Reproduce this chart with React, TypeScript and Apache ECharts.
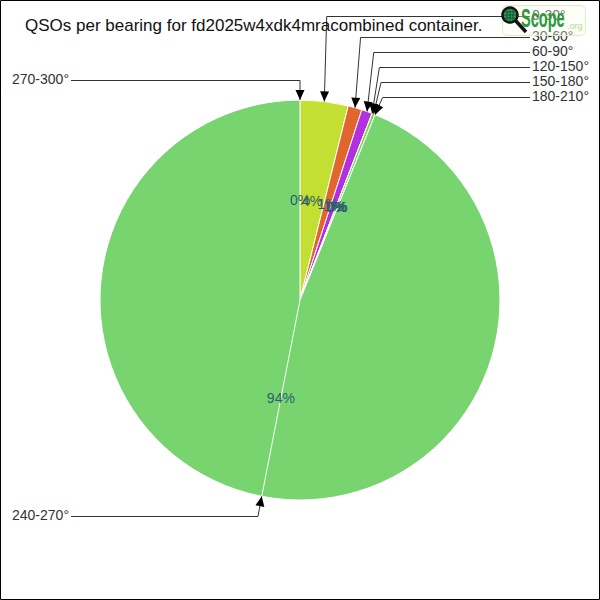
import React, { useEffect, useRef } from "react";
import * as echarts from "echarts";

const categories = ["270-300°", "0-30°", "30-60°", "60-90°", "120-150°", "150-180°", "180-210°", "240-270°"];
const qsoCounts = [0, 31, 9, 7, 0, 2, 0, 751];
const sliceColors = ["#9aa0a6", "#c2df32", "#e2662c", "#b32fe0", "#8a6de0", "#6ade38", "#40c0c0", "#78d46e"];
const titleText = "QSOs per bearing for fd2025w4xdk4mracombined container.";

const CX = 300;
const CY = 300;
const R = 200;
const FONT = "'Liberation Sans', Arial, sans-serif";

export default function App() {
  const ref = useRef<HTMLDivElement>(null);

  useEffect(() => {
    if (!ref.current) return;
    const chart = echarts.init(ref.current, null, { renderer: "svg" });

    const total = qsoCounts.reduce((a, b) => a + b, 0);
    let cum = 0;
    const spans = qsoCounts.map((v) => {
      const a0 = (cum / total) * 360;
      cum += v;
      const a1 = (cum / total) * 360;
      return { a0, a1, mid: (a0 + a1) / 2, pct: Math.round((v / total) * 100) };
    });
    const pt = (deg: number, r: number) => {
      const t = (deg * Math.PI) / 180;
      return [CX + r * Math.sin(t), CY - r * Math.cos(t)];
    };

    const els: any[] = [];

    // split line for slices larger than a half circle
    spans.forEach((s) => {
      if (s.a1 - s.a0 > 180) {
        const e = pt(s.mid, R);
        els.push({
          type: "line",
          z: 20,
          shape: { x1: CX, y1: CY, x2: e[0], y2: e[1] },
          style: { stroke: "#ffffff", lineWidth: 1 },
        });
      }
    });

    // percentage labels inside each slice, at half the radius
    spans.forEach((s) => {
      const p = pt(s.mid, R / 2);
      els.push({
        type: "text",
        z: 25,
        x: p[0],
        y: p[1],
        style: {
          text: s.pct + "%",
          fill: "#2e5e6e",
          fontSize: 14,
          fontFamily: FONT,
          align: "center",
          verticalAlign: "middle",
        },
      });
    });

    // outer labels with arrows
    const rightIdx: number[] = [];
    const leftIdx: number[] = [];
    spans.forEach((s, i) => {
      if (s.mid > 1e-6 && s.mid < 180) rightIdx.push(i);
      else leftIdx.push(i);
    });

    const addLabel = (i: number, lineY: number, side: "left" | "right") => {
      const s = spans[i];
      const tip = pt(s.mid, R);
      const elbow = pt(s.mid, R + 20);
      const ly = Math.round(lineY) + 0.5;
      const startX = side === "right" ? 530 : 71;
      els.push({
        type: "polyline",
        z: 30,
        shape: { points: [[startX, ly], [elbow[0], ly], [tip[0], tip[1]]] },
        style: { stroke: "#333333", lineWidth: 1, fill: "none" },
      });
      const dx = tip[0] - elbow[0];
      const dy = tip[1] - ly;
      const len = Math.sqrt(dx * dx + dy * dy) || 1;
      const ux = dx / len;
      const uy = dy / len;
      const L = 10;
      const W = 4.5;
      els.push({
        type: "polygon",
        z: 31,
        shape: {
          points: [
            [tip[0], tip[1]],
            [tip[0] - ux * L - uy * W, tip[1] - uy * L + ux * W],
            [tip[0] - ux * L + uy * W, tip[1] - uy * L - ux * W],
          ],
        },
        style: { fill: "#000000" },
      });
      els.push({
        type: "text",
        z: 32,
        x: side === "right" ? 532 : 69,
        y: ly - 1.5,
        style: {
          text: categories[i],
          fill: "#333333",
          fontSize: 14,
          fontFamily: FONT,
          align: side === "right" ? "left" : "right",
          verticalAlign: "middle",
        },
      });
    };

    const rightLineY = (k: number, n: number) => (k === 0 ? 16 : 97 - 15 * (n - 1 - k));
    rightIdx.forEach((i, k) => addLabel(i, rightLineY(k, rightIdx.length), "right"));
    leftIdx.forEach((i) => {
      const tip = pt(spans[i].mid, R);
      addLabel(i, tip[1] < CY ? tip[1] - 20 : tip[1] + 20, "left");
    });

    // title
    els.push({
      type: "text",
      z: 40,
      x: 25,
      y: 25,
      style: {
        text: titleText,
        fill: "#111111",
        fontSize: 17,
        fontFamily: FONT,
        align: "left",
        verticalAlign: "middle",
      },
    });

    // logo
    els.push({
      type: "group",
      z: 60,
      children: [
        {
          type: "rect",
          z: 60,
          shape: { x: 502.5, y: 5.5, width: 83, height: 30, r: 5 },
          style: { fill: "rgba(250,252,236,0.35)", stroke: "#e2ebbf", lineWidth: 1 },
        },
        {
          type: "line",
          z: 61,
          shape: { x1: 515, y1: 20, x2: 526, y2: 32 },
          style: { stroke: "#111111", lineWidth: 3.5 },
        },
        {
          type: "circle",
          z: 62,
          shape: { cx: 510, cy: 15, r: 7.5 },
          style: { fill: "#2f9c5c", stroke: "#111111", lineWidth: 2.5 },
        },
        ...[-3, 0, 3].map((o) => ({
          type: "line",
          z: 63,
          shape: { x1: 510 + o, y1: 9, x2: 510 + o, y2: 21 },
          style: { stroke: "#0d4a26", lineWidth: 0.8 },
        })),
        ...[-3, 0, 3].map((o) => ({
          type: "line",
          z: 63,
          shape: { x1: 504, y1: 15 + o, x2: 516, y2: 15 + o },
          style: { stroke: "#0d4a26", lineWidth: 0.8 },
        })),
        {
          type: "text",
          z: 64,
          x: 521,
          y: 18,
          scaleX: 0.56,
          style: {
            text: "Scope",
            fill: "#2b9a3c",
            fontSize: 26,
            fontWeight: "bold",
            fontFamily: FONT,
            align: "left",
            verticalAlign: "middle",
          },
        },
        {
          type: "text",
          z: 64,
          x: 567,
          y: 26,
          style: {
            text: ".org",
            fill: "#b4da94",
            fontSize: 9,
            fontFamily: FONT,
            align: "left",
            verticalAlign: "middle",
          },
        },
      ],
    });

    // frame
    els.push({
      type: "rect",
      z: 100,
      shape: { x: 0.5, y: 0.5, width: 599, height: 599 },
      style: { fill: "none", stroke: "#000000", lineWidth: 1 },
    });

    chart.setOption({
      animation: false,
      backgroundColor: "#ffffff",
      series: [
        {
          type: "pie",
          center: [CX, CY],
          radius: R,
          startAngle: 90,
          clockwise: true,
          avoidLabelOverlap: false,
          silent: true,
          emphasis: { disabled: true },
          itemStyle: { borderColor: "#ffffff", borderWidth: 1 },
          label: { show: false },
          labelLine: { show: false },
          data: categories.map((c, i) => ({
            name: c,
            value: qsoCounts[i],
            itemStyle: { color: sliceColors[i] },
          })),
        },
      ],
      graphic: { elements: els },
    });

    return () => chart.dispose();
  }, []);

  return (
    <div
      ref={ref}
      style={{ position: "absolute", left: 0, top: 0, width: 600, height: 600 }}
    />
  );
}
